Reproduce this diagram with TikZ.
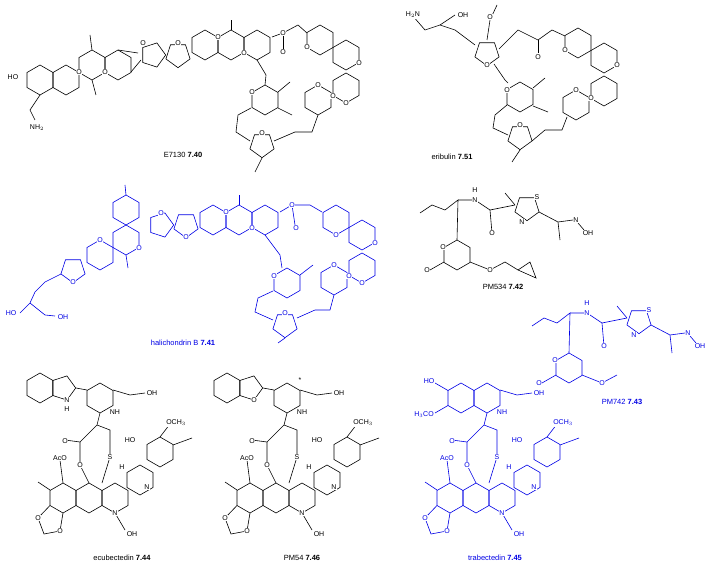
\documentclass[tikz,border=0pt]{standalone}
\usepackage{fontspec}
\setmainfont{Liberation Sans}
\begin{document}
\begin{tikzpicture}[x=1pt,y=-1pt,line width=0.6pt,
 lab/.style={font=\fontsize{7.5}{9}\selectfont,inner sep=1pt},
 atm/.style={font=\fontsize{7}{8}\selectfont,inner sep=0.6pt,fill=white}]
\useasboundingbox (0,0) rectangle (707,564);
\colorlet{bcol}{blue!90!black}
\newcommand\hexr[3][black]{\draw[#1,shift={(#2,#3)}] (30:15) -- (90:15) -- (150:15) -- (210:15) -- (270:15) -- (330:15) -- cycle;}
\newcommand\pent[3][black]{\draw[#1,shift={(#2,#3)}] (90:12.7) -- (162:12.7) -- (234:12.7) -- (306:12.7) -- (18:12.7) -- cycle;}
\newcommand\pentv[3][black]{\draw[#1,shift={(#2,#3)}] (0:12.7) -- (72:12.7) -- (144:12.7) -- (216:12.7) -- (288:12.7) -- cycle;}
% ---------- E7130
\hexr{40}{80} \hexr{66}{80} \hexr{92}{65} \hexr{118}{65}
\pentv{153}{55} \pent{178}{55}
\hexr{205}{45} \hexr{231}{45} \hexr{257}{45}
\hexr{320}{40} \hexr{346}{55} \hexr{346}{88} \hexr{318}{100}
\hexr{265}{100} \pent{262}{145}
\draw (118,50)--(138,53);
\draw (131,72)--(141,60);
\draw (272,37)--(283,33)--(298,25)--(307,33);
\draw (283,33)--(283,50);
\draw (257,60)--(266,75)--(265,85);
\draw (251,108)--(238,115)--(236,132)--(250,141);
\draw (274,141)--(295,132)--(312,132)--(318,115);
\draw (262,158)--(255,172);
\draw (278,92)--(290,82);
\draw (278,108)--(292,115);
\draw (40,95)--(30,110)--(35,120);
\draw (92,50)--(90,35);
\draw (231,30)--(231,20);
\draw (92,80)--(96,95);
\node[atm] (a1) at (13,77) {HO};
\node[atm] (a2) at (37,128) {NH$_2$};
\node[atm] (a3) at (79,72) {O};
\node[atm] (a4) at (105,72) {O};
\node[atm] (a5) at (143,43) {O};
\node[atm] (a6) at (178,43) {O};
\node[atm] (a7) at (218,37) {O};
\node[atm] (a8) at (244,53) {O};
\node[atm] (a9) at (283,33) {O};
\node[atm] (a10) at (283,52) {O};
\node[atm] (a11) at (307,47) {O};
\node[atm] (a12) at (359,63) {O};
\node[atm] (a13) at (252,92) {O};
\node[atm] (a14) at (262,133) {O};
\node[atm] (a15) at (318,85) {O};
\node[atm] (a16) at (333,96) {O};
\node[atm] (a17) at (346,103) {O};
\node[lab] (l1) at (183,155) {E7130 \textbf{7.40}};
% ---------- eribulin
\pent{487}{53} \hexr{520}{97} \pent{520}{137}
\hexr{578}{43} \hexr{604}{58} \hexr{604}{91} \hexr{576}{105}
\draw (412,15)--(425,30)--(440,25)--(455,30)--(475,45);
\draw (440,25)--(455,15);
\draw (487,40)--(490,20)--(497,5);
\draw (499,49)--(518,30)--(538,40)--(552,30)--(565,36);
\draw (538,40)--(538,53);
\draw (494,64)--(505,80)--(508,83);
\draw (507,105)--(495,115)--(493,128)--(508,135);
\draw (532,141)--(545,130)--(562,130)--(567,117);
\draw (520,150)--(512,162);
\draw (533,88)--(545,78);
\draw (533,106)--(548,112);
\node[atm] (e1) at (413,15) {H$_2$N};
\node[atm] (e2) at (463,15) {OH};
\node[atm] (e3) at (490,17) {O};
\node[atm] (e4) at (538,57) {O};
\node[atm] (e5) at (487,65) {O};
\node[atm] (e6) at (507,90) {O};
\node[atm] (e7) at (520,125) {O};
\node[atm] (e8) at (565,50) {O};
\node[atm] (e9) at (617,65) {O};
\node[atm] (e10) at (576,90) {O};
\node[atm] (e11) at (591,98) {O};
\node[lab] (l2) at (452,157) {eribulin \textbf{7.51}};
% ---------- halichondrin B
\begin{scope}[bcol]
\pent[bcol]{73}{270} \hexr[bcol]{100}{255} \hexr[bcol]{126}{240} \hexr[bcol]{126}{210}
\pentv[bcol]{161}{225} \pent[bcol]{186}{225}
\hexr[bcol]{213}{220} \hexr[bcol]{239}{220} \hexr[bcol]{265}{220}
\hexr[bcol]{336}{220} \hexr[bcol]{362}{235} \hexr[bcol]{362}{268} \hexr[bcol]{334}{280}
\hexr[bcol]{287}{283} \pent[bcol]{285}{325}
\draw (61,274)--(45,282)--(35,292)--(30,303)--(20,313);
\draw (30,303)--(45,315)--(55,316);
\draw (280,212)--(292,205)--(310,205)--(322,212);
\draw (292,205)--(295,225);
\draw (265,235)--(280,255)--(282,268);
\draw (273,291)--(258,298)--(255,312)--(273,320);
\draw (297,318)--(315,310)--(330,310)--(334,295);
\draw (285,338)--(278,343);
\draw (126,195)--(125,185);
\draw (126,255)--(128,268);
\draw (239,205)--(239,195);
\draw (300,275)--(313,265);
\node[atm] (h1) at (11,313) {HO};
\node[atm] (h2) at (63,317) {OH};
\node[atm] (h3) at (73,282) {O};
\node[atm] (h4) at (100,240) {O};
\node[atm] (h5) at (139,248) {O};
\node[atm] (h6) at (161,213) {O};
\node[atm] (h7) at (186,237) {O};
\node[atm] (h8) at (226,212) {O};
\node[atm] (h9) at (252,228) {O};
\node[atm] (h10) at (292,205) {O};
\node[atm] (h11) at (296,228) {O};
\node[atm] (h12) at (336,235) {O};
\node[atm] (h13) at (375,243) {O};
\node[atm] (h14) at (334,265) {O};
\node[atm] (h15) at (349,276) {O};
\node[atm] (h16) at (362,283) {O};
\node[atm] (h17) at (274,276) {O};
\node[atm] (h18) at (285,313) {O};
\end{scope}
\node[lab,text=bcol] (l3) at (183,343) {halichondrin B \textbf{7.41}};
% ---------- PM534 / PM742
\foreach \dx/\dy/\col in {0/0/black,112/113/bcol}{
\begin{scope}[shift={(\dx,\dy)},color=\col]
\hexr[\col]{457}{255} \pent[\col]{527}{208}
\draw (420,213)--(432,205)--(445,210)--(458,200)--(457,240);
\draw (458,200)--(475,200)--(490,210)--(515,205);
\draw (490,210)--(492,233);
\draw (515,205)--(505,193);
\draw (539,212)--(558,222)--(573,220);
\draw (558,222)--(560,240);
\draw (578,223)--(584,230);
\draw (444,262)--(430,270);
\draw (470,262)--(490,270)--(505,262);
\node[atm] at (475,190) {H};
\node[atm] at (475,200) {N};
\node[atm] at (492,233) {O};
\node[atm] at (537,197) {S};
\node[atm] at (522,222) {N};
\node[atm] at (576,220) {N};
\node[atm] at (588,233) {OH};
\node[atm] at (443,247) {O};
\node[atm] at (427,270) {O};
\node[atm] at (490,270) {O};
\end{scope}}
\draw (505,262)--(518,270) (518,270)--(530,262)--(536,278)--cycle;
\node[lab] (l4) at (503,287) {PM534 \textbf{7.42}};
\node[lab,text=bcol] (l5) at (622,402) {PM742 \textbf{7.43}};
% ---------- bottom three
\foreach \dx/\col/\kind in {0/black/1,187/black/2,387/bcol/3}{
\begin{scope}[shift={(\dx,0)},color=\col]
\hexr[\col]{63}{498}
\draw (50,505.5)--(38,518)--(44,534)--(60,531)--(63,513);
\hexr[\col]{89}{498} \hexr[\col]{115}{498} \hexr[\col]{140}{480} \hexr[\col]{160}{452}
\hexr[\col]{100}{398}
\ifnum\kind<3 \hexr[\col]{40}{388} \pentv[\col]{63}{388} \draw (76,388)--(87,390); \fi
\ifnum\kind=3 \hexr[\col]{74}{398}
 \draw (61,390.5)--(48,383); \draw (61,405.5)--(48,413); \fi
\draw (100,413)--(97,425)--(80,442)--(65,440);
\draw (80,442)--(80,465)--(89,483);
\draw (97,425)--(110,430)--(110,457)--(102,483);
\draw (63,483)--(60,460);
\draw (50,490)--(38,482);
\draw (113,390)--(130,395)--(145,393);
\draw (160,437)--(170,424);
\draw (173,445)--(192,438);
\draw (115,513)--(125,530);
\node[atm] at (60,458) {AcO};
\node[atm] at (65,441) {O};
\node[atm] at (80,465) {O};
\node[atm] at (110,457) {S};
\node[atm] at (122,467) {H};
\node[atm] at (147,487) {N};
\node[atm] at (115,513) {N};
\node[atm] at (132,534) {OH};
\node[atm] at (130,440) {HO};
\node[atm] at (176,423) {OCH$_3$};
\node[atm] at (38,518) {O};
\node[atm] at (60,531) {O};
\node[atm] at (115,412) {NH};
\node[atm] at (152,393) {OH};
\ifnum\kind=1 \node[atm] at (67,400) {N}; \node[atm] at (67,409) {H}; \fi
\ifnum\kind=2 \node[atm] at (67,400) {O}; \node[atm] at (113,380) {*}; \fi
\ifnum\kind=3 \node[atm] at (42,381) {HO}; \node[atm] at (37,415) {H$_3$CO}; \fi
\end{scope}}
\node[lab] (l6) at (122,558) {ecubectedin \textbf{7.44}};
\node[lab] (l7) at (302,558) {PM54 \textbf{7.46}};
\node[lab,text=bcol] (l8) at (495,558) {trabectedin \textbf{7.45}};
\end{tikzpicture}
\end{document}
